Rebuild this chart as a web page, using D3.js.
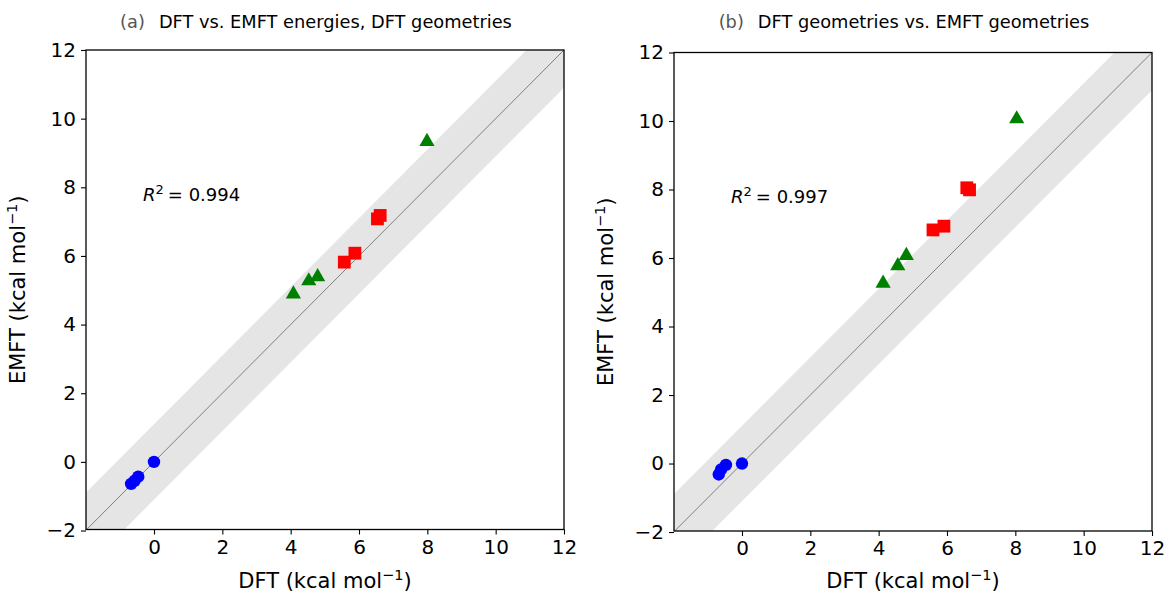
<!DOCTYPE html>
<html>
<head>
<meta charset="utf-8">
<script src="https://cdn.jsdelivr.net/npm/d3@7"></script>
<style>
  body { margin: 0; background: #fff; }
  text { font-family: "DejaVu Sans", sans-serif; }
</style>
</head>
<body>
<div id="plot"></div>
<script>
// ticks
let xTicks = [0, 2, 4, 6, 8, 10, 12];
let yTicks = [-2, 0, 2, 4, 6, 8, 10, 12];

// panel (a): DFT vs. EMFT energies, DFT geometries
let aCircX = [0, -0.46, -0.57, -0.67];
let aCircY = [0, -0.43, -0.55, -0.64];
let aSqX = [5.57, 5.88, 6.54, 6.62];
let aSqY = [5.82, 6.08, 7.08, 7.18];
let aTriX = [4.08, 4.53, 4.79, 7.99];
let aTriY = [4.92, 5.30, 5.42, 9.36];

// panel (b): DFT geometries vs. EMFT geometries
let bCircX = [0, -0.47, -0.61, -0.68];
let bCircY = [0, -0.04, -0.17, -0.32];
let bSqX = [5.59, 5.91, 6.58, 6.66];
let bSqY = [6.82, 6.93, 8.05, 7.99];
let bTriX = [4.13, 4.56, 4.81, 8.04];
let bTriY = [5.29, 5.80, 6.10, 10.09];

let panels = [
    { tag: '(a)', title: 'DFT vs. EMFT energies, DFT geometries', r2: '0.994',
      left: 86, right: 564, top: 50, bottom: 529.5,
      circ: [aCircX, aCircY], sq: [aSqX, aSqY], tri: [aTriX, aTriY] },
    { tag: '(b)', title: 'DFT geometries vs. EMFT geometries', r2: '0.997',
      left: 674, right: 1152, top: 52.5, bottom: 531,
      circ: [bCircX, bCircY], sq: [bSqX, bSqY], tri: [bTriX, bTriY] }
];

let band = 1.1;

let svg = d3.select('#plot')
    .append('svg')
    .attr('width', 1168)
    .attr('height', 593);

function zip(xs, ys) {
    return xs.map((v, i) => ({ x: v, y: ys[i] }));
}

panels.forEach(function(p, pi) {
    let x = d3.scaleLinear().domain([-1.99, 12]).range([p.left, p.right]);
    let y = d3.scaleLinear().domain([-1.97, 12]).range([p.bottom, p.top]);

    let clipId = 'clip' + pi;
    svg.append('clipPath').attr('id', clipId)
        .append('rect')
        .attr('x', p.left).attr('y', p.top)
        .attr('width', p.right - p.left).attr('height', p.bottom - p.top);

    let g = svg.append('g').attr('clip-path', `url(#${clipId})`);

    // +-band around the parity line
    let lo = -4, hi = 14;
    let bandPts = [[lo, lo + band], [hi, hi + band], [hi, hi - band], [lo, lo - band]];
    g.append('path')
        .attr('d', d3.line().x(d => x(d[0])).y(d => y(d[1]))(bandPts) + 'Z')
        .attr('fill', '#e5e5e5');

    g.append('line')
        .attr('x1', x(lo)).attr('y1', y(lo))
        .attr('x2', x(hi)).attr('y2', y(hi))
        .attr('stroke', '#555')
        .attr('stroke-width', 0.7);

    // markers
    g.selectAll('circle.pt').data(zip(p.circ[0], p.circ[1]))
        .enter().append('circle')
        .attr('class', 'pt')
        .attr('cx', d => x(d.x)).attr('cy', d => y(d.y))
        .attr('r', 6.2)
        .attr('fill', 'blue');

    g.selectAll('rect.pt').data(zip(p.sq[0], p.sq[1]))
        .enter().append('rect')
        .attr('class', 'pt')
        .attr('x', d => x(d.x) - 6.4).attr('y', d => y(d.y) - 6.4)
        .attr('width', 12.8).attr('height', 12.8)
        .attr('fill', 'red');

    let tri = d3.symbol().type(d3.symbolTriangle).size(100);
    g.selectAll('path.pt').data(zip(p.tri[0], p.tri[1]))
        .enter().append('path')
        .attr('class', 'pt')
        .attr('d', tri)
        .attr('transform', d => `translate(${x(d.x)},${y(d.y) + 1})`)
        .attr('fill', 'green');

    // frame
    svg.append('rect')
        .attr('x', p.left).attr('y', p.top)
        .attr('width', p.right - p.left).attr('height', p.bottom - p.top)
        .attr('fill', 'none')
        .attr('stroke', '#000')
        .attr('stroke-width', 1.3);

    let fmt = d => d < 0 ? '\u2212' + (-d) : d;
    let xAxis = d3.axisBottom(x).tickValues(xTicks).tickSize(5).tickPadding(5).tickFormat(fmt);
    let yAxis = d3.axisLeft(y).tickValues(yTicks).tickSize(5).tickPadding(5).tickFormat(fmt);

    let gx = svg.append('g')
        .attr('transform', `translate(0,${p.bottom})`)
        .call(xAxis);
    let gy = svg.append('g')
        .attr('transform', `translate(${p.left},0)`)
        .call(yAxis);
    [gx, gy].forEach(a => {
        a.select('.domain').remove();
        a.selectAll('.tick line').attr('stroke-width', 1.1);
        a.selectAll('.tick text').attr('font-size', 20).attr('fill', '#000')
            .style('font-family', '"DejaVu Sans", sans-serif');
    });

    let cx = (p.left + p.right) / 2;
    let cy = (p.top + p.bottom) / 2;

    // axis labels
    let xl = svg.append('text')
        .attr('x', cx).attr('y', 588)
        .attr('text-anchor', 'middle')
        .attr('font-size', 21);
    xl.append('tspan').text('DFT (kcal mol');
    xl.append('tspan').attr('dy', -8).attr('font-size', 14.5).text('\u22121');
    xl.append('tspan').attr('dy', 8).text(')');

    let yl = svg.append('text')
        .attr('transform', `translate(${p.left - 61},${cy}) rotate(-90)`)
        .attr('text-anchor', 'middle')
        .attr('font-size', 21);
    yl.append('tspan').text('EMFT (kcal mol');
    yl.append('tspan').attr('dy', -8).attr('font-size', 14.5).text('\u22121');
    yl.append('tspan').attr('dy', 8).text(')');

    // title
    let t = svg.append('text')
        .attr('x', cx - 9).attr('y', 28)
        .attr('text-anchor', 'middle')
        .attr('font-size', 17.8);
    t.append('tspan').attr('fill', '#555').text(p.tag);
    t.append('tspan').attr('dx', 14).attr('fill', '#000').text(p.title);

    // R^2 annotation
    let r = svg.append('text')
        .attr('x', x(-0.32)).attr('y', y(7.6))
        .attr('font-size', 18);
    r.append('tspan').attr('font-style', 'italic').text('R');
    r.append('tspan').attr('dy', -7).attr('font-size', 13).text('2');
    r.append('tspan').attr('dy', 7).attr('dx', 4).text('= ' + p.r2);
});
</script>
</body>
</html>
